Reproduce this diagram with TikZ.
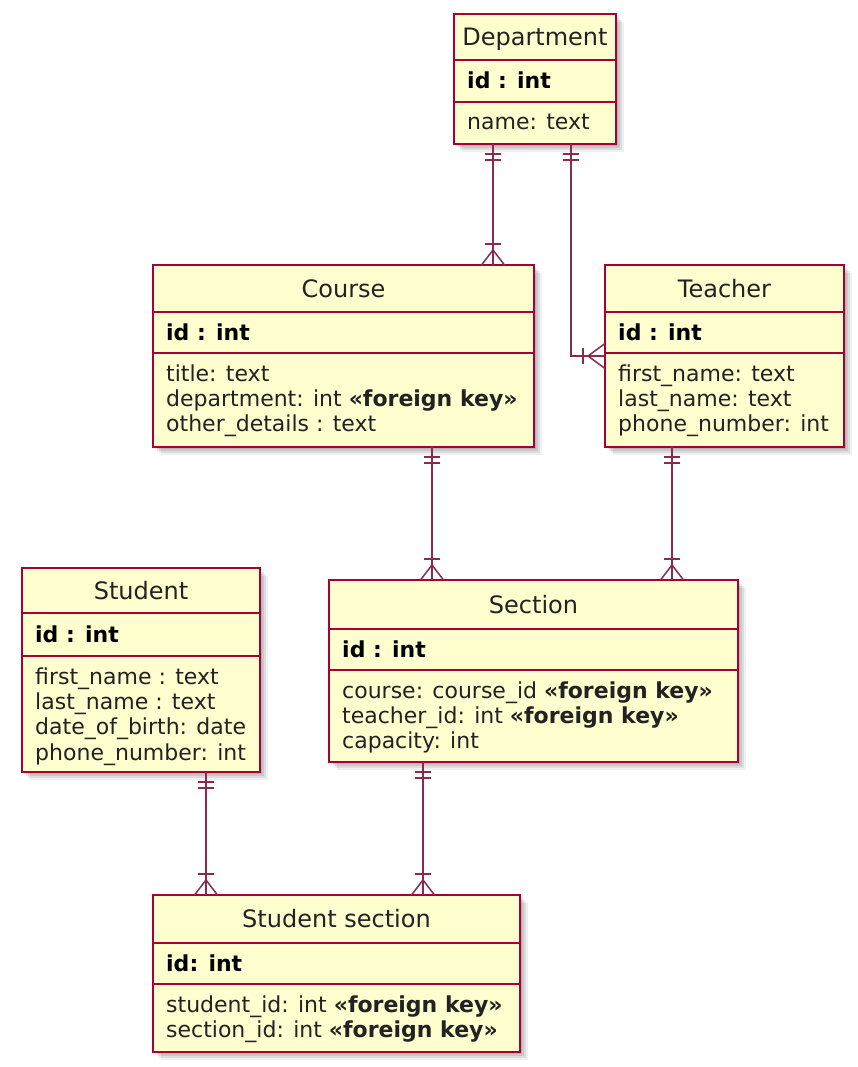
\documentclass[tikz,border=0pt]{standalone}
\usepackage{fontspec}
\setmainfont{DejaVu Sans}
\usetikzlibrary{calc}
\definecolor{ebord}{HTML}{A80036}
\definecolor{efill}{HTML}{FEFECE}
\definecolor{eline}{HTML}{8A2A50}
\definecolor{ttext}{HTML}{222222}
\tikzset{
  ebox/.style={draw=ebord, fill=efill, line width=1.6, inner sep=0, outer sep=0, rectangle},
  titletext/.style={inner sep=0, text=ttext, font=\fontsize{24}{28}\selectfont},
  idtext/.style={inner sep=0, font=\fontsize{22}{26}\selectfont\bfseries},
  attr/.style={inner sep=0, text=ttext, font=\fontsize{22}{26}\selectfont},
  rel/.style={draw=eline, line width=1.5},
  onedown/.pic={\draw[rel] (-8,10) -- (8,10) (-8,16) -- (8,16);},
  manyup/.pic={\draw[rel] (-8,-21) -- (8,-21); \draw[rel] (-11.5,0) -- (0,-15) -- (11.5,0);},
  manyleft/.pic={\draw[rel] (-22,-8) -- (-22,8); \draw[rel] (0,-12.5) -- (-17,0) -- (0,12.5);}
}
\newcommand\ent[9]{%
  \foreach \s/\o in {2/0.10,4/0.09,6/0.08,8/0.06}{\fill[black,opacity=\o] (#2+\s,#3+\s) rectangle (#4+\s,#5+\s);}
  \node[ebox, minimum width={#4-#2}, minimum height={#5-#3}, anchor=north west] (#1) at (#2,#3) {};
  \draw[ebord, line width=1.6] (#2,#6) -- (#4,#6) (#2,#7) -- (#4,#7);
  \node[titletext, anchor=base] (#1-t) at ({(#2+#4)/2},{(#3+#6)/2+8.5}) {#8};
  \node[idtext, anchor=base west] (#1-id) at (#2+13,{(#6+#7)/2+8}) {#9};
}
\newcommand\attrs[4]{%
  \foreach \t [count=\i] in {#4}{\node[attr, anchor=base west] (#1-a\i) at (#2+13,{#3+28+(\i-1)*25.4}) {\t};}
}
\begin{document}
\begin{tikzpicture}[x=1pt,y=-1pt]
\fill[white] (0,0) rectangle (858,1067);
\useasboundingbox (0,0) rectangle (858,1067);

% entities
\ent{dept}{454}{14}{616}{144}{60}{102}{Department}{id : int}
\attrs{dept}{454}{102}{name: text}

\ent{course}{153}{265}{534}{447}{312}{353}{Course}{id : int}
\attrs{course}{153}{353}{title: text, department: int \textbf{«foreign key»}, other\_details : text}

\ent{teacher}{605}{265}{844}{447}{312}{353}{Teacher}{id : int}
\attrs{teacher}{605}{353}{first\_name: text, last\_name: text, phone\_number: int}

\ent{student}{22}{568}{260}{772}{613}{656}{Student}{id : int}
\attrs{student}{22}{656}{first\_name : text, last\_name : text, date\_of\_birth: date, phone\_number: int}

\ent{section}{329}{580}{738}{762}{629}{670}{Section}{id : int}
\attrs{section}{329}{670}{course: course\_id \textbf{«foreign key»}, teacher\_id: int \textbf{«foreign key»}, capacity: int}

\ent{ss}{153}{895}{520}{1052}{943}{984}{Student section}{id: int}
\attrs{ss}{153}{984}{student\_id: int \textbf{«foreign key»}, section\_id: int \textbf{«foreign key»}}

% connector x positions
\coordinate (xdc) at (493,0);
\coordinate (xdt) at (571,0);
\coordinate (xcs) at (432,0);
\coordinate (xts) at (672,0);
\coordinate (xst) at (206,0);
\coordinate (xss) at (423,0);

% connectors
\draw[rel] (dept.south -| xdc) -- (course.north -| xdc);
\pic at (dept.south -| xdc) {onedown};
\pic at (course.north -| xdc) {manyup};

\draw[rel] (dept.south -| xdt) |- (teacher.west);
\pic at (dept.south -| xdt) {onedown};
\pic at (teacher.west) {manyleft};

\draw[rel] (course.south -| xcs) -- (section.north -| xcs);
\pic at (course.south -| xcs) {onedown};
\pic at (section.north -| xcs) {manyup};

\draw[rel] (teacher.south -| xts) -- (section.north -| xts);
\pic at (teacher.south -| xts) {onedown};
\pic at (section.north -| xts) {manyup};

\draw[rel] (student.south -| xst) -- (ss.north -| xst);
\pic at (student.south -| xst) {onedown};
\pic at (ss.north -| xst) {manyup};

\draw[rel] (section.south -| xss) -- (ss.north -| xss);
\pic at (section.south -| xss) {onedown};
\pic at (ss.north -| xss) {manyup};
\end{tikzpicture}
\end{document}
